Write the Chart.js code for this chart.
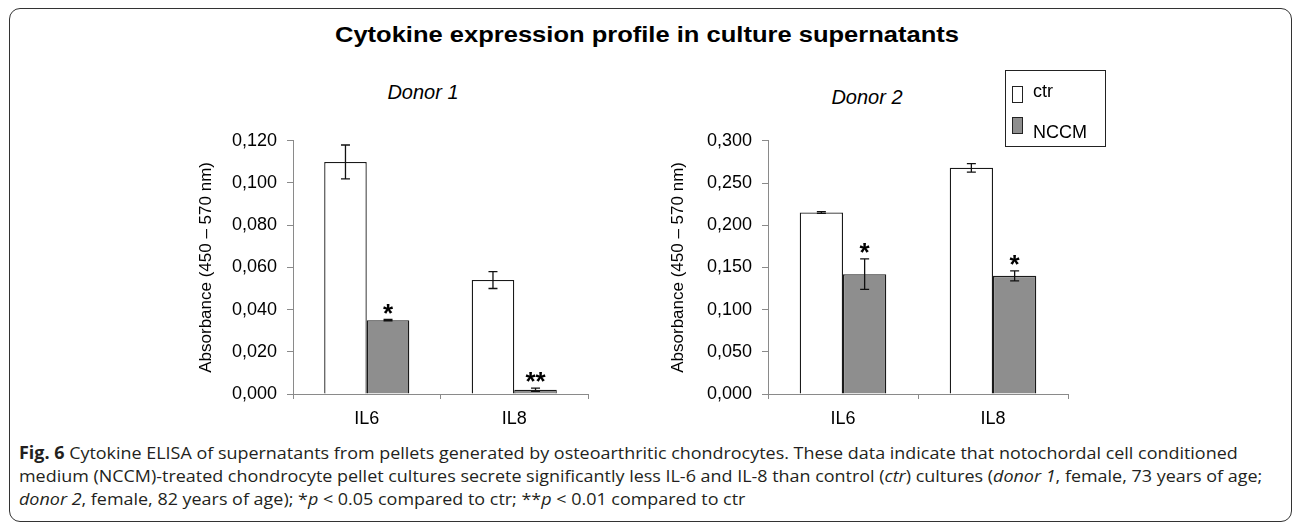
<!DOCTYPE html>
<html>
<head>
<meta charset="utf-8">
<script src="https://cdn.jsdelivr.net/npm/chart.js@4.4.1/dist/chart.umd.min.js"></script>
<style>
  body { margin: 0; background: #fff; width: 1293px; height: 525px; overflow: hidden; position: relative; font-family: "Liberation Sans", Arial, sans-serif; }
  .frame { position: absolute; left: 9px; top: 8px; width: 1283px; height: 514px; border: 1.5px solid #333; border-radius: 11px; box-sizing: border-box; }
  .title { position: absolute; left: 0; width: 1293px; top: 22px; text-align: center; font-weight: bold; font-size: 22px; }
  .title span { display: inline-block; transform: scaleX(1.16); }
  .donor { position: absolute; font-style: italic; font-size: 20px; transform: translateX(-50%); white-space: nowrap; }
  canvas { position: absolute; }
  .legend { position: absolute; left: 1005px; top: 70px; width: 101px; height: 77px; border: 1.3px solid #222; box-sizing: border-box; font-size: 18px; }
  .sw { position: absolute; left: 6px; width: 11px; height: 17px; border: 1.2px solid #222; box-sizing: border-box; }
  .lt { position: absolute; left: 27px; }
  .caption { position: absolute; left: 19px; top: 441px; font-family: "Open Sans", sans-serif; font-size: 17px; color: #231f20; line-height: 23px; white-space: nowrap; transform: scaleX(1.055); transform-origin: 0 0; }
</style>
</head>
<body>
<div class="frame"></div>
<div class="title"><span>Cytokine expression profile in culture supernatants</span></div>
<div class="donor" style="left:423px; top:81px;">Donor 1</div>
<div class="donor" style="left:867px; top:86px;">Donor 2</div>
<canvas id="chart1" width="420" height="320" style="left:180px; top:120px;"></canvas>
<canvas id="chart2" width="420" height="320" style="left:660px; top:120px;"></canvas>
<div class="legend">
  <div class="sw" style="top:15px; background:#fff;"></div><div class="lt" style="top:10px;">ctr</div>
  <div class="sw" style="top:46px; background:#8e8e8e;"></div><div class="lt" style="top:51px;">NCCM</div>
</div>
<div class="caption">
  <div><b>Fig. 6</b> Cytokine ELISA of supernatants from pellets generated by osteoarthritic chondrocytes. These data indicate that notochordal cell conditioned</div>
  <div>medium (NCCM)-treated chondrocyte pellet cultures secrete significantly less IL-6 and IL-8 than control (<i>ctr</i>) cultures (<i>donor 1</i>, female, 73 years of age;</div>
  <div><i>donor 2</i>, female, 82 years of age); *<i>p</i> &lt; 0.05 compared to ctr; **<i>p</i> &lt; 0.01 compared to ctr</div>
</div>
<script>
// Data
var categories = ['IL6', 'IL8'];
var seriesNames = ['ctr', 'NCCM'];

var donor1Ctr = [0.110, 0.054];
var donor1CtrErr = [0.008, 0.004];
var donor1Nccm = [0.035, 0.002];
var donor1NccmErr = [0.0003, 0.0008];
var donor1Stars = ['*', '**'];

var donor2Ctr = [0.215, 0.268];
var donor2CtrErr = [0.001, 0.005];
var donor2Nccm = [0.142, 0.140];
var donor2NccmErr = [0.018, 0.006];
var donor2Stars = ['*', '*'];

var donor1Max = 0.12, donor1Step = 0.02;
var donor2Max = 0.30, donor2Step = 0.05;

var fontFam = '"Liberation Sans", Arial, sans-serif';

// draws error bars and significance stars using the y scale
var errorBars = {
  id: 'errorBars',
  afterDatasetsDraw: function(chart) {
    var ctx = chart.ctx;
    var yScale = chart.scales.y;
    chart.data.datasets.forEach(function(ds, i) {
      var meta = chart.getDatasetMeta(i);
      meta.data.forEach(function(bar, j) {
        var v = ds.data[j], err = ds.errors[j];
        var top = yScale.getPixelForValue(v + err);
        var bot = yScale.getPixelForValue(v - err);
        ctx.save();
        ctx.strokeStyle = '#111';
        ctx.lineWidth = 1.3;
        ctx.beginPath();
        ctx.moveTo(bar.x, top); ctx.lineTo(bar.x, bot);
        ctx.moveTo(bar.x - 4.5, top); ctx.lineTo(bar.x + 4.5, top);
        ctx.moveTo(bar.x - 4.5, bot); ctx.lineTo(bar.x + 4.5, bot);
        ctx.stroke();
        if (ds.stars && ds.stars[j]) {
          ctx.fillStyle = '#000';
          ctx.font = 'bold 26px ' + fontFam;
          ctx.textAlign = 'center';
          ctx.textBaseline = 'alphabetic';
          ctx.fillText(ds.stars[j], bar.x, top + 2);
        }
        ctx.restore();
      });
    });
  }
};

function makeChart(id, ctr, ctrErr, nccm, nccmErr, stars, yMax, yStep, yWidth, titlePad) {
  var ctx = document.getElementById(id).getContext('2d');
  return new Chart(ctx, {
    type: 'bar',
    data: {
      labels: categories,
      datasets: [{
        label: seriesNames[0],
        data: ctr,
        errors: ctrErr,
        backgroundColor: '#ffffff',
        borderColor: '#1a1a1a',
        borderWidth: 1.3
      }, {
        label: seriesNames[1],
        data: nccm,
        errors: nccmErr,
        stars: stars,
        backgroundColor: '#8e8e8e',
        borderColor: '#1a1a1a',
        borderWidth: 1.3
      }]
    },
    options: {
      responsive: false,
      animation: false,
      devicePixelRatio: 1,
      layout: { padding: { top: 18, right: 12, left: 0, bottom: 0 } },
      datasets: { bar: { barPercentage: 1, categoryPercentage: 0.577 } },
      plugins: { legend: { display: false }, tooltip: { enabled: false } },
      scales: {
        x: {
          grid: { drawOnChartArea: false, tickLength: 5, color: '#8a8a8a', offset: true },
          border: { color: '#8a8a8a' },
          ticks: { color: '#000', font: { family: fontFam, size: 18 }, padding: 9 },
          afterFit: function(scale) { scale.height = 46; }
        },
        y: {
          min: 0,
          max: yMax,
          grid: { drawOnChartArea: false, tickLength: 6, color: '#8a8a8a' },
          border: { color: '#8a8a8a' },
          ticks: {
            stepSize: yStep,
            color: '#000',
            padding: 10,
            font: { family: fontFam, size: 18 },
            callback: function(v) { return v.toFixed(3).replace('.', ','); }
          },
          title: {
            display: true,
            text: 'Absorbance (450 \u2013 570 nm)',
            color: '#000',
            font: { family: fontFam, size: 17 },
            padding: { top: titlePad, bottom: 0 }
          },
          afterFit: function(scale) { scale.width = yWidth; }
        }
      }
    },
    plugins: [errorBars]
  });
}

makeChart('chart1', donor1Ctr, donor1CtrErr, donor1Nccm, donor1NccmErr, donor1Stars, donor1Max, donor1Step, 113, 16);
makeChart('chart2', donor2Ctr, donor2CtrErr, donor2Nccm, donor2NccmErr, donor2Stars, donor2Max, donor2Step, 108, 8);
</script>
</body>
</html>
